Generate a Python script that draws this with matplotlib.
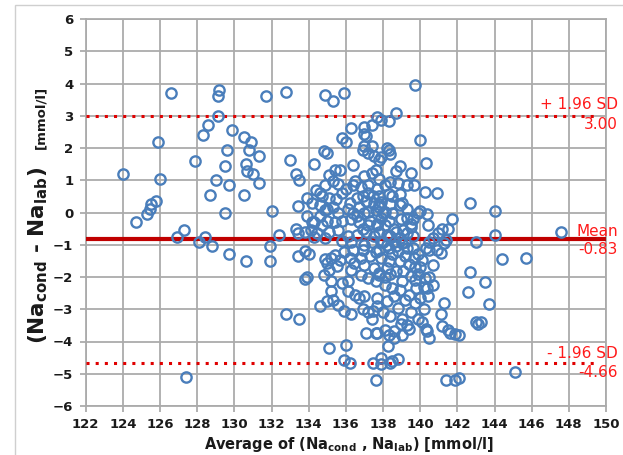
import matplotlib
matplotlib.use("Agg")
import matplotlib.pyplot as plt
from matplotlib.patches import Rectangle

# ---- data: (average, difference) pairs ----
points_left = [
    (124.0, 1.2), (124.7, -0.3), (125.3, -0.05), (125.45, 0.1), (125.5, 0.25),
    (125.8, 0.35), (125.9, 2.2), (126.0, 1.05), (126.6, 3.7), (126.9, -0.75),
    (127.3, -0.55), (127.4, -5.1), (127.9, 1.6), (128.1, -0.9), (128.3, 2.4),
    (128.4, -0.75), (128.6, 2.7), (128.8, -1.05), (128.7, 0.55), (129.0, 1.0),
    (129.1, 3.0), (129.1, 3.6), (129.2, 3.8), (129.5, 1.45), (129.5, 0.0),
    (129.6, 1.95), (129.7, 0.85), (129.7, -1.3), (129.9, 2.55), (130.5, 0.55),
    (130.5, 2.35), (130.6, 1.5), (130.7, 1.3), (130.6, -1.5), (130.8, 1.95),
    (130.9, 2.2), (131.0, 1.2), (131.3, 1.75), (131.3, 0.9), (131.7, 3.6),
    (131.9, -1.05), (131.9, -1.5), (132.0, 0.05), (132.4, -0.7), (132.8, 3.75),
    (132.8, -3.15),
]

points_midleft = [
    (133.0, 1.64), (133.3, 1.2), (133.4, 0.2), (133.5, 1.0), (133.3, -0.5),
    (133.4, -1.35), (133.5, -3.3), (133.8, -1.2), (134.0, -1.3), (133.9, -2.0),
    (133.8, -2.05), (134.2, 0.3), (134.2, -0.3), (134.1, -0.55), (134.3, -0.75),
    (134.3, 1.5), (134.6, 0.6), (134.6, -2.9), (134.7, -0.4), (134.9, -0.8),
    (134.8, -1.95), (134.8, 1.9), (135.0, 1.85), (135.0, 0.1), (134.9, 3.65),
    (135.1, -4.2), (135.2, -1.4), (135.3, -2.7), (135.3, 3.46), (135.9, 3.7),
]

points_core_upper = [
    (135.8, 2.3), (136.0, 2.2), (136.3, 2.62), (137.0, 2.66), (137.4, 2.72),
    (137.65, 2.97), (137.0, 2.42), (137.1, 2.36), (137.0, 2.05), (137.4, 2.05),
    (138.2, 2.0), (136.9, 1.93), (137.2, 1.84), (137.5, 1.74), (137.8, 1.64),
    (136.4, 1.46), (135.1, 1.17), (135.4, 1.31), (135.7, 1.31), (135.3, 0.98),
    (135.6, 0.89), (134.9, 0.84), (136.0, 0.74), (136.4, 0.84), (136.5, 0.98),
    (136.8, 0.79), (137.2, 0.84), (137.0, 1.12), (137.4, 1.22), (137.6, 1.31),
    (137.7, 0.74), (134.4, 0.7), (133.9, 0.46), (134.7, 0.5), (135.1, 0.46),
    (135.45, 0.41), (135.8, 0.6), (136.2, 0.31), (136.6, 0.46), (137.1, 0.36),
    (137.45, 0.5), (137.8, 0.27), (134.6, 0.22), (134.9, 0.08), (135.3, 0.17),
    (135.6, -0.02), (136.1, 0.12), (136.4, -0.02), (136.7, 0.17), (137.2, 0.03),
    (137.6, 0.08), (134.6, -0.11), (135.0, -0.26), (135.4, -0.3), (135.8, -0.26),
    (136.3, -0.21), (136.7, -0.3), (137.3, -0.26), (137.7, -0.35), (133.9, -0.11),
    (134.3, -0.3), (133.45, -0.64), (133.8, -0.59), (134.45, -0.64), (135.1, -0.59),
    (135.6, -0.54), (136.1, -0.73), (136.6, -0.69), (137.1, -0.59), (137.5, -0.73),
    (135.8, -0.88), (136.3, -0.92),
]

points_core_lower = [
    (134.9, -1.45), (135.0, -1.57), (135.4, -1.31), (135.55, -1.67), (135.7, -1.46),
    (135.1, -1.77), (136.2, -1.41), (136.45, -1.57), (136.3, -1.77), (135.9, -1.21),
    (136.4, -1.15), (136.9, -1.15), (137.3, -1.36), (137.6, -1.21), (137.0, -1.62),
    (137.5, -1.72), (136.8, -1.93), (137.2, -2.03), (137.6, -2.13), (137.8, -1.88),
    (135.2, -2.13), (135.8, -2.19), (136.1, -2.13), (135.2, -2.44), (136.1, -2.44),
    (136.5, -2.55), (136.7, -2.65), (137.0, -2.6), (135.0, -2.75), (135.6, -2.86),
    (135.9, -3.06), (136.3, -3.16), (136.9, -3.0), (137.2, -3.1), (137.45, -3.06),
    (137.7, -2.9), (137.4, -3.3), (137.1, -3.73), (137.6, -3.73), (136.0, -4.1),
    (135.9, -4.56), (136.2, -4.66), (137.45, -4.66), (137.6, -5.18),
]

points_core_right_upper = [
    (137.9, 2.87), (138.3, 2.85), (138.7, 3.1), (139.7, 3.95), (140.0, 2.25),
    (138.3, 1.95), (138.35, 1.81), (137.9, 1.71), (138.9, 1.43), (140.3, 1.52),
    (138.7, 1.28), (139.5, 1.23), (137.8, 1.04), (138.4, 0.94), (138.1, 0.85),
    (138.8, 0.9), (139.3, 0.85), (139.65, 0.85), (140.25, 0.65), (140.9, 0.62),
    (138.9, 0.56), (138.3, 0.56), (137.8, 0.5), (142.7, 0.3), (137.9, 0.32),
    (138.4, 0.27), (137.8, 0.17), (138.9, 0.22), (139.3, 0.1), (138.1, 0.03),
    (138.5, -0.02), (140.0, 0.05), (140.35, -0.05), (141.7, -0.2), (141.5, -0.5),
    (137.9, -0.16), (138.3, -0.26), (138.96, -0.21), (139.5, -0.35), (139.3, -0.16),
    (138.1, -0.4), (138.6, -0.5), (139.1, -0.55), (139.5, -0.45), (137.8, -0.6),
    (138.4, -0.74), (138.9, -0.79), (139.3, -0.64), (139.6, -0.74), (140.95, -0.64),
    (141.3, -0.95), (141.2, -0.5), (140.7, -0.79), (140.5, -0.93), (141.4, -0.84),
]

points_core_right_lower = [
    (137.8, -1.15), (138.3, -1.1), (138.8, -1.2), (139.3, -1.1), (139.2, -1.36),
    (139.65, -1.41), (140.1, -1.46), (140.5, -1.15), (141.1, -1.25), (140.9, -1.15),
    (140.7, -1.62), (138.2, -1.72), (138.7, -1.82), (137.8, -1.93), (139.5, -1.98),
    (140.25, -2.03), (140.7, -2.24), (140.35, -2.34), (138.1, -2.24), (138.5, -2.34),
    (139.0, -2.13), (139.8, -2.34), (139.4, -2.55), (140.0, -2.65), (139.7, -2.8),
    (140.2, -3.0), (137.7, -2.65), (138.2, -2.75), (138.8, -2.96), (138.0, -3.1),
    (138.4, -3.2), (141.3, -2.8), (141.1, -3.16), (141.2, -3.53), (141.5, -3.63),
    (140.35, -3.68), (140.5, -3.89), (141.9, -3.78), (138.1, -3.63), (138.6, -3.68),
    (138.96, -3.47), (137.7, -3.73), (138.25, -4.14), (137.9, -4.5), (138.4, -4.66),
    (141.4, -5.18), (141.9, -5.18), (142.1, -5.12),
]

points_dense = [
    (138.0, -0.9), (138.2, -1.0), (138.5, -1.3), (138.3, -1.5), (138.6, -0.9),
    (138.9, -1.5), (139.1, -1.8), (138.4, -1.9), (137.9, -1.4), (138.7, -1.05),
    (139.0, -0.95), (139.4, -1.6), (139.7, -1.7), (139.9, -1.9), (138.1, -2.0),
    (138.9, -2.4), (139.2, -2.7), (138.6, -2.6), (139.5, -3.1), (139.0, -3.3),
    (139.3, -3.5), (139.0, -3.8), (138.6, -3.9), (138.3, -3.8), (139.4, -3.6),
    (138.8, -4.55), (138.5, -4.6), (137.9, -4.7), (139.7, -2.1), (140.0, -1.7),
    (140.2, -2.3), (140.4, -2.6), (139.9, -3.3), (140.1, -3.4), (140.3, -3.6),
    (136.8, -1.4), (137.0, -1.0), (137.4, -0.9), (137.2, -0.4), (137.9, -0.9),
    (138.2, -0.7), (138.7, -0.6), (139.2, -0.9), (139.6, -1.1), (139.9, -1.3),
    (140.3, -1.1), (138.0, 0.0), (137.5, 0.3), (137.2, 0.6), (136.9, 0.5),
    (137.0, 0.0), (136.6, -0.1), (136.9, -0.5), (137.7, -0.4), (138.5, 0.5),
    (139.0, 0.3), (139.6, -0.2), (139.9, 0.0), (140.4, -0.4),
]

points_right = [
    (144.0, 0.05), (144.0, -0.7), (143.0, -0.9), (142.7, -1.85), (142.6, -2.45),
    (143.5, -2.15), (143.7, -2.85), (143.0, -3.4), (143.1, -3.45), (143.3, -3.4),
    (142.1, -3.8), (141.6, -3.75), (144.4, -1.45), (145.7, -1.4), (147.6, -0.6),
    (145.1, -4.95), (140.5, -2.0),
]

mean_diff = -0.83
upper_loa = 3.00
lower_loa = -4.66

x_ticks = list(range(122, 151, 2))
y_ticks = list(range(-6, 7, 1))

# ---- figure ----
fig = plt.figure(figsize=(6.23, 4.55), dpi=100)
fig.patch.set_facecolor("white")
fig.add_artist(Rectangle((15 / 623, -0.05), 1.1, (455 - 5) / 455 + 0.05,
                         transform=fig.transFigure, fill=False,
                         edgecolor="#cfcfcf", linewidth=1.0))

ax = fig.add_axes([85.7 / 623, 49 / 455, (606 - 85.7) / 623, (406 - 19) / 455])

all_groups = [points_left, points_midleft, points_core_upper, points_core_lower,
              points_core_right_upper, points_core_right_lower, points_dense, points_right]
xs = [p[0] for g in all_groups for p in g]
ys = [p[1] for g in all_groups for p in g]

gridc = "#ababab"
ax.set_xlim(122, 150)
ax.set_ylim(-6, 6)
ax.set_xticks(x_ticks)
ax.set_yticks(y_ticks)
ax.grid(True, color=gridc, linewidth=1.3)
ax.set_axisbelow(True)
for s in ax.spines.values():
    s.set_color(gridc)
    s.set_linewidth(1.3)
ax.tick_params(axis="both", length=4, width=1.3, color=gridc, labelsize=9.5,
               labelcolor="#1a1a1a", pad=5)
for lab in ax.get_xticklabels() + ax.get_yticklabels():
    lab.set_fontweight("bold")

ax.axhline(mean_diff, color="#c00000", linewidth=3.0, zorder=3)
ax.axhline(upper_loa, xmax=(149.6 - 122) / 28, color="#e00000", linewidth=2.2,
           linestyle=(0, (1, 2)), zorder=3)
ax.axhline(lower_loa, xmax=(149.6 - 122) / 28, color="#e00000", linewidth=2.2,
           linestyle=(0, (1, 2)), zorder=3)

ax.plot(xs, ys, linestyle="none", marker="o", markersize=7.4, markerfacecolor="none",
        markeredgecolor="#4a7ebb", markeredgewidth=1.7, zorder=4)

red = "#ff1a1a"
x_right = 150.65
tk = dict(color=red, fontsize=11, va="center", ha="right", clip_on=False)
ax.text(x_right, 3.35, "+ 1.96 SD", **tk)
ax.text(x_right, 2.73, f"{upper_loa:.2f}", **tk)
ax.text(x_right, -0.59, "Mean", **tk)
ax.text(x_right, -1.15, f"{mean_diff:.2f}", **tk)
ax.text(x_right, -4.37, "- 1.96 SD", **tk)
ax.text(x_right, -4.96, f"{lower_loa:.2f}", **tk)

fig.text(349 / 623, 1 - 444 / 455,
         r"Average of (Na$_{\mathbf{cond}}$ , Na$_{\mathbf{lab}}$) [mmol/l]",
         ha="center", va="center", fontsize=10.5, fontweight="bold", color="#1a1a1a")
fig.text(38 / 623, 1 - 255 / 455, r"(Na$_{\mathbf{cond}}$ - Na$_{\mathbf{lab}}$)",
         rotation=90, ha="center", va="center", fontsize=15.5, fontweight="bold",
         color="#1a1a1a")
fig.text(41 / 623, 1 - 117 / 455, "[mmol/l]", rotation=90, ha="center", va="center",
         fontsize=9.5, fontweight="bold", color="#1a1a1a")

fig.savefig("out.png", dpi=100)
